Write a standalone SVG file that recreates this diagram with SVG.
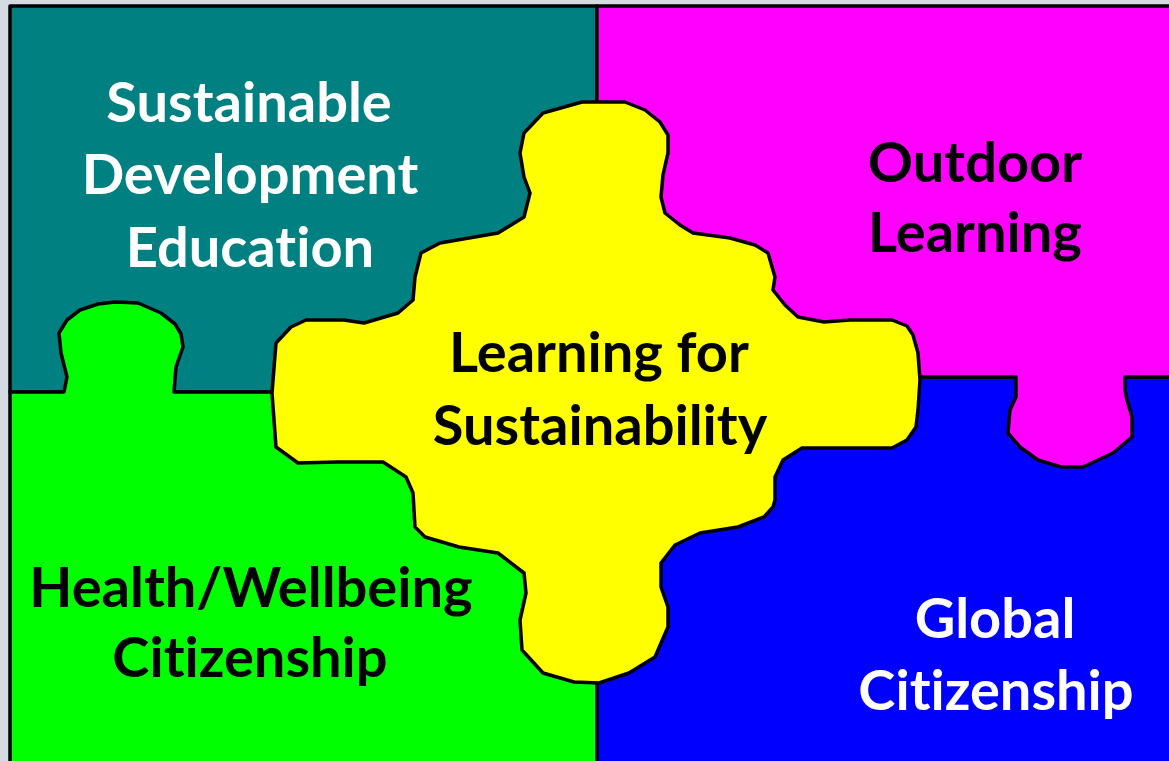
<svg xmlns="http://www.w3.org/2000/svg" width="1169" height="761" viewBox="0 0 1169 761">
<style>
.piece{stroke:#000;stroke-width:3.5;stroke-linejoin:round}
.lbl{font-family:Lato,"Open Sans","Liberation Sans",sans-serif;font-weight:bold;font-size:56px;text-anchor:middle;font-variant-ligatures:none}
.w{fill:#fff}.k{fill:#000}
</style>
<rect x="0" y="0" width="1169" height="761" fill="#d5dbe3"/>
<g id="sde">
<rect class="piece" x="10" y="6" width="587" height="386" fill="#008080"/>
<text class="lbl w"><tspan x="249" y="122">Sustainable</tspan><tspan x="250" y="194">Development</tspan><tspan x="250" y="267">Education</tspan></text>
</g>
<g id="gc">
<rect class="piece" x="597" y="377" width="580" height="392" fill="#0000ff"/>
<text class="lbl w"><tspan x="995" y="638">Global</tspan><tspan x="996" y="710">Citizenship</tspan></text>
</g>
<g id="hw">
<path class="piece" fill="#00ff00" d="M10,392 H64 L67,377 L61,353 L59,333 L67,320 L80,310 L98,304 L115,302 L138,303 L161,313 L175,324 L181,334 L183,347 L176,367 L174,392 H597 V770 H10 Z"/>
<text class="lbl k"><tspan x="251" y="607">Health/Wellbeing</tspan><tspan x="250" y="677">Citizenship</tspan></text>
</g>
<g id="ol">
<path class="piece" fill="#ff00ff" d="M597,6 H1177 V377 H1125 L1125,390 L1127,400 L1132,417 L1132,437 L1113,453 L1083,467 L1061,467 L1038,460 L1020,447 L1008,433 L1010,410 L1016,397 L1016,377 H597 Z"/>
<text class="lbl k"><tspan x="975" y="182">Outdoor</tspan><tspan x="975" y="252">Learning</tspan></text>
</g>
<g id="lfs">
<path class="piece" fill="#ffff00" d="M582,102 L625,102 L645,110 L660,122 L668,135 L668,153 L663,175 L661,197 L665,213 L680,225 L693,233 L730,238 L755,245 L768,253 L775,277 L773,290 L785,305 L798,317 L824,322 L850,320 L892,320 L907,326 L913,335 L918,353 L920,380 L918,410 L916,427 L907,440 L892,448 L802,448 L783,460 L775,477 L775,500 L773,507 L764,517 L738,527 L700,533 L675,545 L661,563 L661,587 L668,607 L668,627 L655,657 L629,673 L599,683 L574,682 L543,673 L522,650 L520,620 L526,593 L524,573 L498,553 L459,547 L425,537 L415,527 L413,493 L406,477 L383,462 L337,462 L298,463 L276,447 L274,420 L272,393 L276,343 L291,327 L306,320 L344,320 L364,323 L398,313 L413,300 L415,277 L421,253 L440,243 L498,233 L524,217 L530,193 L524,177 L520,153 L524,133 L543,113 Z"/>
<text class="lbl k"><tspan x="599" y="372">Learning for</tspan><tspan x="600" y="445">Sustainability</tspan></text>
</g>
<g id="connectors"/>
</svg>
